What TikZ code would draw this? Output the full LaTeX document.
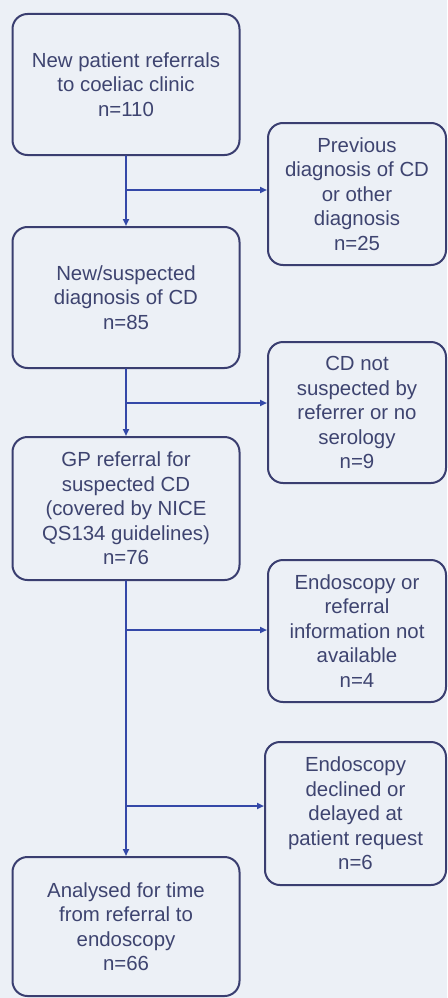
\documentclass[tikz,border=0pt]{standalone}
\usepackage{fontspec}
\setmainfont{Liberation Sans}
\usetikzlibrary{arrows.meta, calc, positioning}
\definecolor{paperbg}{RGB}{236, 240, 246}
\definecolor{boxline}{RGB}{58, 62, 112}
\definecolor{boxtext}{RGB}{62, 68, 112}
\definecolor{arrowblue}{RGB}{52, 72, 168}

\tikzset{
	stagebox/.style={draw=boxline, line width=2pt, rounded corners=15pt, align=center, text=boxtext,
		font=\fontsize{20.4}{24.5}\selectfont, inner sep=0pt},
	leftbox/.style={stagebox, minimum width=227pt, minimum height=141pt},
	rightbox/.style={stagebox, minimum width=178pt, minimum height=142pt},
	flowarrow/.style={draw=arrowblue, line width=1.8pt, -{Triangle[length=7pt, width=6pt]}}
}

\begin{document}
\begin{tikzpicture}[x=1pt, y=1pt, line cap=round, line join=round]
	% background and frame
	\fill[paperbg] (0,0) rectangle (447,-998);
	\useasboundingbox (0,0) rectangle (447,-998);
	
	% main stages
	\node[leftbox] (referrals) at (126,-84.5) {New patient referrals\\to coeliac clinic\\n=110};
	\node[leftbox] (suspected) at (126,-297.5) {New/suspected\\diagnosis of CD\\n=85};
	\node[leftbox, minimum height=143pt] (gpreferral) at (126,-508.5) {GP referral for\\suspected CD\\(covered by NICE\\QS134 guidelines)\\n=76};
	\node[leftbox, minimum height=139pt] (analysed) at (126,-926.5) {Analysed for time\\from referral to\\endoscopy\\n=66};
	
	% excluded
	\node[rightbox] (previous) at (357,-194) {Previous\\diagnosis of CD\\or other\\diagnosis\\n=25};
	\node[rightbox, minimum height=141pt] (notsusp) at (357,-412.5) {CD not\\suspected by\\referrer or no\\serology\\n=9};
	\node[rightbox] (noinfo) at (357,-631) {Endoscopy or\\referral\\information not\\available\\n=4};
	\node[rightbox, minimum width=181pt, minimum height=143pt] (declined) at (355.5,-813.5) {Endoscopy\\declined or\\delayed at\\patient request\\n=6};
	
	% branch points on the trunk
	\coordinate (split1) at (126,-190);
	\coordinate (split2) at (126,-403);
	\coordinate (split3) at (126,-630);
	\coordinate (split4) at (126,-806);
	
	% trunk
	\draw[flowarrow] (referrals.south) -- (suspected.north);
	\draw[flowarrow] (suspected.south) -- (gpreferral.north);
	\draw[flowarrow] (gpreferral.south) -- (analysed.north);
	
	% exclusions
	\draw[flowarrow] (split1) -- (split1 -| previous.west);
	\draw[flowarrow] (split2) -- (split2 -| notsusp.west);
	\draw[flowarrow] (split3) -- (split3 -| noinfo.west);
	\draw[flowarrow] (split4) -- (split4 -| declined.west);
\end{tikzpicture}
\end{document}
